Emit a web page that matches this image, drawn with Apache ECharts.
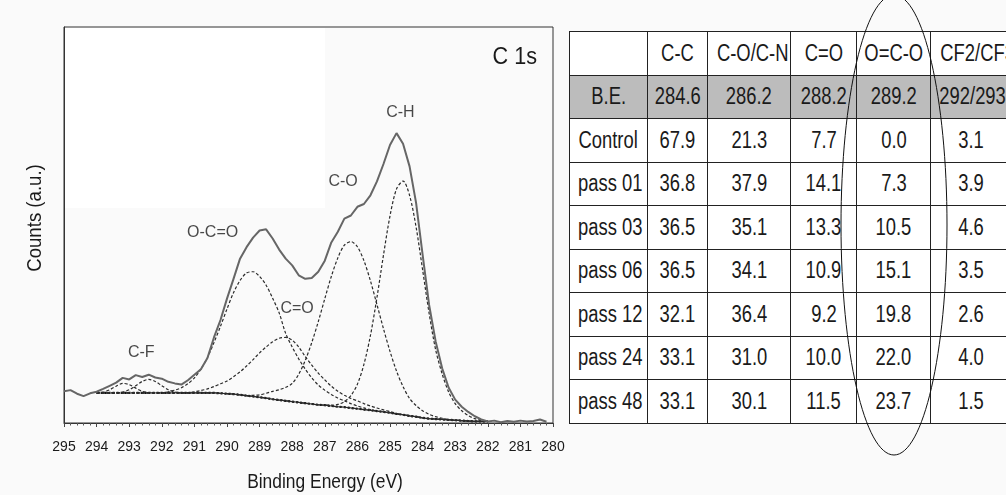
<!DOCTYPE html>
<html>
<head>
<meta charset="utf-8">
<script src="https://cdn.jsdelivr.net/npm/echarts@6/dist/echarts.min.js"></script>
<style>
  html, body { margin: 0; padding: 0; width: 1006px; height: 495px; overflow: hidden; background: #fafafa; }
  #chart { position: absolute; left: 0; top: 0; width: 1006px; height: 495px; z-index: 2; pointer-events: none; }
  #table {
    position: absolute; left: 569px; top: 31px; z-index: 1;
    border-collapse: collapse; table-layout: fixed; width: 441px;
    font-family: "Liberation Sans", Arial, sans-serif;
    font-size: 23px; color: #1a1a1a;
  }
  #table td { border: 1.5px solid #222; padding: 0; text-align: center; background: #fff; white-space: nowrap; }
  #table td span { display: inline-block; transform: scaleX(0.8); }
  #table tr { height: 43.5px; }
  #table tr.be td { background: #bcbcbc; }
</style>
</head>
<body>
<table id="table">
  <colgroup>
    <col style="width:78px"><col style="width:60px"><col style="width:83px">
    <col style="width:66px"><col style="width:74px"><col style="width:80px">
  </colgroup>
  <tbody id="tbody"></tbody>
</table>
<div id="chart"></div>
<script>
// binding energy grid (eV)
const energy = [
  295.0, 294.8, 294.6, 294.4, 294.2, 294.0, 293.8, 293.6, 293.4, 293.2,
  293.0, 292.8, 292.6, 292.4, 292.2, 292.0, 291.8, 291.6, 291.4, 291.2,
  291.0, 290.8, 290.6, 290.4, 290.2, 290.0, 289.8, 289.6, 289.4, 289.2,
  289.0, 288.8, 288.6, 288.4, 288.2, 288.0, 287.8, 287.6, 287.4, 287.2,
  287.0, 286.8, 286.6, 286.4, 286.2, 286.0, 285.8, 285.6, 285.4, 285.2,
  285.0, 284.8, 284.6, 284.4, 284.2, 284.0, 283.8, 283.6, 283.4, 283.2,
  283.0, 282.8, 282.6, 282.4, 282.2, 282.0, 281.8, 281.6, 281.4, 281.2,
  281.0, 280.8, 280.6, 280.4, 280.2, 280.0
]

// measured C 1s spectrum (counts, a.u.)
const measured = [
  8.0, 8.3, 7.4, 6.8, 7.5, 7.9, 8.6, 9.4, 10.2, 11.4,
  11.0, 12.1, 11.6, 12.2, 11.5, 11.2, 10.4, 10.0, 9.7, 10.8,
  12.2, 13.6, 16.4, 21.6, 26.0, 31.4, 36.4, 41.5, 44.4, 46.8,
  48.6, 48.9, 46.6, 43.8, 41.5, 39.8, 37.3, 36.4, 36.6, 38.2,
  41.0, 45.6, 48.3, 51.6, 52.4, 54.6, 55.3, 57.5, 61.0, 65.4,
  70.2, 73.2, 70.5, 64.8, 55.6, 42.5, 29.8, 20.6, 13.8, 8.9,
  5.9, 4.1, 2.8, 1.7, 0.9, 0.4, 0.6, 0.2, 0.5, 0.3,
  0.6, 0.4, 0.5, 0.9, 0.3, null
]

// Shirley-type background
const background = [
  null, null, null, null, null, 7.6, 7.6, 7.6, 7.6, 7.6,
  7.6, 7.6, 7.6, 7.6, 7.6, 7.6, 7.6, 7.6, 7.6, 7.6,
  7.6, 7.6, 7.6, 7.6, 7.5, 7.4, 7.3, 7.1, 6.9, 6.7,
  6.5, 6.3, 6.0, 5.8, 5.6, 5.4, 5.2, 5.0, 4.8, 4.6,
  4.5, 4.3, 4.1, 4.0, 3.8, 3.6, 3.4, 3.2, 3.0, 2.8,
  2.6, 2.3, 2.1, 1.8, 1.6, 1.3, 1.1, 1.0, 0.9, 0.8,
  0.7, 0.6, 0.5, 0.4, 0.4, 0.4, null, null, null, null,
  null, null, null, null, null, null
]

// fitted components, height above background
const cfHighFit = [
  0, 0, 0, 0, 0, 0, 0.2, 0.8, 1.7, 2.4,
  2.1, 1.2, 0.4, 0.1, 0, 0, 0, 0, 0, 0,
  0, 0, 0, 0, 0, 0, 0, 0, 0, 0,
  0, 0, 0, 0, 0, 0, 0, 0, 0, 0,
  0, 0, 0, 0, 0, 0, 0, 0, 0, 0,
  0, 0, 0, 0, 0, 0, 0, 0, 0, 0,
  0, 0, 0, 0, 0, 0, 0, 0, 0, 0,
  0, 0, 0, 0, 0, 0
]
const cfLowFit = [
  0, 0, 0, 0, 0, 0, 0, 0, 0, 0.2,
  0.8, 1.8, 2.9, 3.4, 2.9, 1.8, 0.8, 0.2, 0, 0,
  0, 0, 0, 0, 0, 0, 0, 0, 0, 0,
  0, 0, 0, 0, 0, 0, 0, 0, 0, 0,
  0, 0, 0, 0, 0, 0, 0, 0, 0, 0,
  0, 0, 0, 0, 0, 0, 0, 0, 0, 0,
  0, 0, 0, 0, 0, 0, 0, 0, 0, 0,
  0, 0, 0, 0, 0, 0
]
const ocoFit = [
  0, 0, 0, 0, 0, 0, 0, 0, 0, 0,
  0, 0, 0, 0, 0, 0, 0.3, 0.7, 1.3, 2.3,
  3.8, 6.0, 8.9, 12.7, 16.9, 21.4, 25.6, 28.9, 31.0, 31.5,
  30.5, 28.5, 25.5, 22.0, 17.0, 13.8, 11.0, 8.6, 6.6, 5.0,
  3.8, 2.9, 2.2, 1.6, 1.1, 0.7, 0.4, 0.2, 0, 0,
  0, 0, 0, 0, 0, 0, 0, 0, 0, 0,
  0, 0, 0, 0, 0, 0, 0, 0, 0, 0,
  0, 0, 0, 0, 0, 0
]
const carbonylFit = [
  0, 0, 0, 0, 0, 0, 0, 0, 0, 0,
  0, 0, 0, 0, 0, 0, 0, 0, 0, 0,
  0.3, 0.6, 1.0, 1.6, 2.4, 3.2, 4.4, 5.8, 7.5, 9.3,
  11.2, 12.9, 14.5, 15.6, 16.0, 15.5, 14.0, 11.8, 9.8, 8.0,
  6.4, 5.0, 3.9, 3.0, 2.4, 2.0, 1.5, 1.1, 0.8, 0.5,
  0.3, 0.1, 0, 0, 0, 0, 0, 0, 0, 0,
  0, 0, 0, 0, 0, 0, 0, 0, 0, 0,
  0, 0, 0, 0, 0, 0
]
const coFit = [
  0, 0, 0, 0, 0, 0, 0, 0, 0, 0,
  0, 0, 0, 0, 0, 0, 0, 0, 0, 0,
  0, 0, 0, 0, 0, 0, 0, 0, 0, 0.3,
  0.6, 1.2, 2.0, 2.6, 3.4, 4.6, 7.1, 10.8, 15.5, 21.0,
  26.9, 32.7, 37.6, 40.9, 42.0, 40.9, 37.6, 32.7, 26.9, 21.0,
  15.5, 10.8, 7.1, 4.4, 2.8, 1.8, 1.1, 0.6, 0.3, 0.1,
  0, 0, 0, 0, 0, 0, 0, 0, 0, 0,
  0, 0, 0, 0, 0, 0
]
const chFit = [
  0, 0, 0, 0, 0, 0, 0, 0, 0, 0,
  0, 0, 0, 0, 0, 0, 0, 0, 0, 0,
  0, 0, 0, 0, 0, 0, 0, 0, 0, 0,
  0, 0, 0, 0, 0, 0, 0, 0, 0, 0,
  0, 0.2, 0.6, 1.4, 3.1, 6.2, 11.4, 18.9, 28.7, 39.6,
  49.7, 56.8, 59.0, 55.7, 47.9, 37.4, 26.6, 17.5, 11.5, 7.0,
  4.2, 2.5, 1.4, 0.7, 0.3, 0.1, 0, 0, 0, 0,
  0, 0, 0, 0, 0, 0
]

// peak annotations (binding energy, counts)
const peakNames = ['C-H', 'C-O', 'O-C=O', 'C=O', 'C-F']
const peakLabelEnergy = [284.68, 286.44, 290.44, 287.85, 292.63]
const peakLabelCounts = [78.5, 60.9, 48.2, 29.0, 17.9]

// table
const tableColumns = ['', 'C-C', 'C-O/C-N', 'C=O', 'O=C-O', 'CF2/CF3']
const bindingEnergies = ['284.6', '286.2', '288.2', '289.2', '292/293']
const samples = ['Control', 'pass 01', 'pass 03', 'pass 06', 'pass 12', 'pass 24', 'pass 48']
const ccPct = [67.9, 36.8, 36.5, 36.5, 32.1, 33.1, 33.1]
const coPct = [21.3, 37.9, 35.1, 34.1, 36.4, 31.0, 30.1]
const cdoPct = [7.7, 14.1, 13.3, 10.9, 9.2, 10.0, 11.5]
const ocoPct = [0.0, 7.3, 10.5, 15.1, 19.8, 22.0, 23.7]
const cfPct = [3.1, 3.9, 4.6, 3.5, 2.6, 4.0, 1.5]

// ---- table ----
const tbody = document.getElementById('tbody')
const addRow = (cells, cls) => {
  const tr = document.createElement('tr')
  if (cls) tr.className = cls
  cells.forEach(c => {
    const td = document.createElement('td')
    const span = document.createElement('span')
    span.textContent = c
    td.appendChild(span)
    tr.appendChild(td)
  })
  tbody.appendChild(tr)
}
addRow(tableColumns)
addRow(['B.E.'].concat(bindingEnergies), 'be')
samples.forEach((s, i) => {
  addRow([s].concat([ccPct[i], coPct[i], cdoPct[i], ocoPct[i], cfPct[i]].map(v => v.toFixed(1))))
})

// ---- chart ----
const FONT = '"Liberation Sans", Arial, sans-serif'

const pairs = vals => energy.map((e, i) => [e, vals[i]]).filter(p => p[1] != null)
const onBackground = fit => pairs(background.map((b, i) => b == null ? null : +(b + fit[i]).toFixed(2)))

const dashed = { color: '#2a2a2a', width: 1.2, type: [3, 2] }
const fitSeries = [cfHighFit, cfLowFit, ocoFit, carbonylFit, coFit, chFit].map(fit => ({
  type: 'line',
  data: onBackground(fit),
  showSymbol: false,
  smooth: 0.3,
  lineStyle: dashed,
  z: 3
}))

const chart = echarts.init(document.getElementById('chart'), null, { renderer: 'canvas' })
chart.setOption({
  backgroundColor: 'transparent',
  animation: false,
  grid: { left: 64, top: 27, width: 489, height: 396, show: true, borderColor: '#333', borderWidth: 1 },
  xAxis: {
    type: 'value', min: 280, max: 295, interval: 1, inverse: true,
    axisLine: { show: true, lineStyle: { color: '#333' } },
    axisTick: { show: true, length: 4, lineStyle: { color: '#444' } },
    minorTick: { show: true, splitNumber: 5, length: 2.5, lineStyle: { color: '#555' } },
    axisLabel: { fontFamily: FONT, fontSize: 14, color: '#1a1a1a', margin: 17 },
    splitLine: { show: false }
  },
  yAxis: {
    type: 'value', min: 0, max: 100,
    axisLine: { show: true, lineStyle: { color: '#333' } },
    axisTick: { show: false }, axisLabel: { show: false }, splitLine: { show: false }
  },
  graphic: [
    { type: 'rect', silent: true, z: -10, shape: { x: 65, y: 28, width: 260, height: 180 }, style: { fill: '#ffffff' } },
    { type: 'text', x: 537, y: 57, scaleX: 0.9, style: { text: 'C 1s', fontFamily: FONT, fontSize: 24, fill: '#1a1a1a', textAlign: 'right', textVerticalAlign: 'middle' } },
    { type: 'text', x: 325, y: 482, scaleX: 0.87, style: { text: 'Binding Energy (eV)', fontFamily: FONT, fontSize: 20, fill: '#1a1a1a', textAlign: 'center', textVerticalAlign: 'middle' } },
    { type: 'text', x: 35, y: 218, rotation: Math.PI / 2, scaleX: 0.93, style: { text: 'Counts (a.u.)', fontFamily: FONT, fontSize: 20, fill: '#1a1a1a', textAlign: 'center', textVerticalAlign: 'middle' } },
    { type: 'ellipse', silent: true, z: 100, shape: { cx: 894, cy: 225, rx: 53, ry: 230 }, style: { fill: 'none', stroke: '#111', lineWidth: 1 } }
  ],
  series: [
    {
      type: 'line',
      data: pairs(background),
      showSymbol: false,
      lineStyle: { color: '#111', width: 2.2, type: [2, 2] },
      z: 2
    },
    ...fitSeries,
    {
      type: 'line',
      data: pairs(measured),
      showSymbol: false,
      lineStyle: { color: '#666', width: 2 },
      z: 4
    },
    {
      type: 'scatter',
      symbolSize: 0,
      data: peakNames.map((n, i) => ({ name: n, value: [peakLabelEnergy[i], peakLabelCounts[i]] })),
      label: { show: true, position: 'inside', formatter: '{b}', fontFamily: FONT, fontSize: 16, color: '#1a1a1a' },
      z: 5
    }
  ]
})
</script>
</body>
</html>
